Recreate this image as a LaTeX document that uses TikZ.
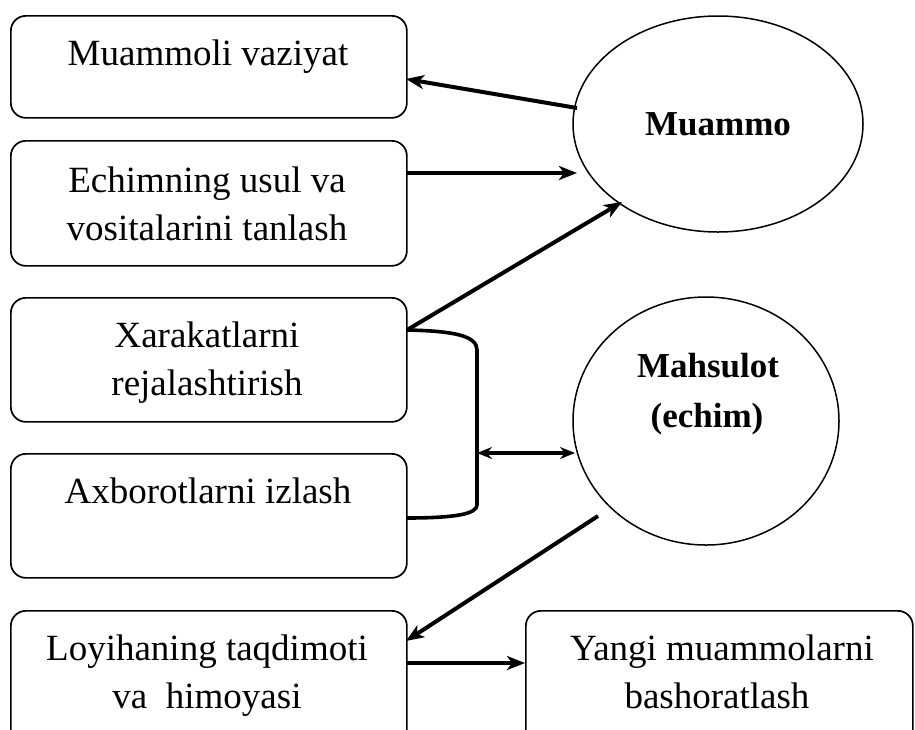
\documentclass[tikz,border=0pt]{standalone}
\usepackage{fontspec}
\setmainfont{Liberation Serif}
\usetikzlibrary{shapes.geometric,arrows.meta}
\begin{document}
\begin{tikzpicture}[x=1pt,y=-1pt,
  box/.style={draw,line width=1.7pt,rounded corners=15pt,anchor=north west,inner sep=0pt},
  oval/.style={draw,ellipse,line width=1.5pt,inner sep=0pt},
  txt/.style={font=\fontsize{37}{48}\selectfont,anchor=base,inner sep=0pt},
  btxt/.style={font=\fontsize{35}{48}\selectfont\bfseries,anchor=base,inner sep=0pt},
  arr/.style={line width=4pt,-{Stealth[length=18pt,width=14pt,inset=5pt]}},
  darr/.style={line width=3.6pt,{Stealth[length=15pt,width=12pt,inset=5pt]}-{Stealth[length=15pt,width=12pt,inset=5pt]}},
  brk/.style={line width=3.6pt}]
\useasboundingbox (0,0) rectangle (915,729);
\clip (0,0) rectangle (915,729);
\fill[white] (0,0) rectangle (915,729);

% boxes
\node[box,minimum width=396pt,minimum height=102pt] (b1) at (10,15) {};
\node[box,minimum width=396pt,minimum height=125pt] (b2) at (10,140) {};
\node[box,minimum width=396pt,minimum height=124pt] (b3) at (10,297) {};
\node[box,minimum width=396pt,minimum height=124pt] (b4) at (10,453) {};
\node[box,minimum width=396pt,minimum height=135pt] (b5) at (10,610) {};
\node[box,minimum width=387pt,minimum height=135pt] (b6) at (525,610) {};

% ellipses
\node[oval,minimum width=290pt,minimum height=216pt] (muammo) at (718,124) {};
\node[oval,minimum width=266pt,minimum height=248pt] (mahsulot) at (706,421) {};

% texts
\node[txt] (t1) at (208,65) {Muammoli vaziyat};
\node[txt] (t2a) at (207,192) {Echimning usul va};
\node[txt] (t2b) at (207,240) {vositalarini tanlash};
\node[txt] (t3a) at (207,347) {Xarakatlarni};
\node[txt] (t3b) at (207,395) {rejalashtirish};
\node[txt] (t4) at (208,503) {Axborotlarni izlash};
\node[txt] (t5a) at (207,660) {Loyihaning taqdimoti};
\node[txt] (t5b) at (207,708) {va\ \ himoyasi};
\node[txt] (t6a) at (722,660) {Yangi muammolarni};
\node[txt] (t6b) at (717,708) {bashoratlash};
\node[btxt] (tm) at (718,135) {Muammo};
\node[btxt] (tp1) at (708,377) {Mahsulot};
\node[btxt] (tp2) at (707,427) {(echim)};

% connector end points
\coordinate (m1) at (577,108);
\coordinate (b1in) at (406,79);
\coordinate (b2out) at (406,173);
\coordinate (m2) at (577,173);
\coordinate (b3out) at (407,330);
\coordinate (m3) at (622,202);
\coordinate (br1) at (477,350);
\coordinate (br2) at (477,505);
\coordinate (b4out) at (406,518);
\coordinate (brm) at (477,453);
\coordinate (p1) at (575,453);
\coordinate (p2) at (598,516);
\coordinate (b5in) at (406,641);
\coordinate (b5out) at (406,663);
\coordinate (b6in) at (b6.west |- b5out);

% connectors
\draw[arr] (m1) -- (b1in);
\draw[arr] (b2out) -- (m2);
\draw[arr] (b3out) -- (m3);
\draw[brk] (b3out) .. controls (455,331) and (477,336) .. (br1) -- (br2)
  .. controls (477,514) and (455,518) .. (b4out);
\draw[darr] (brm) -- (p1);
\draw[arr] (p2) -- (b5in);
\draw[arr] (b5out) -- (b6in);
\end{tikzpicture}
\end{document}
